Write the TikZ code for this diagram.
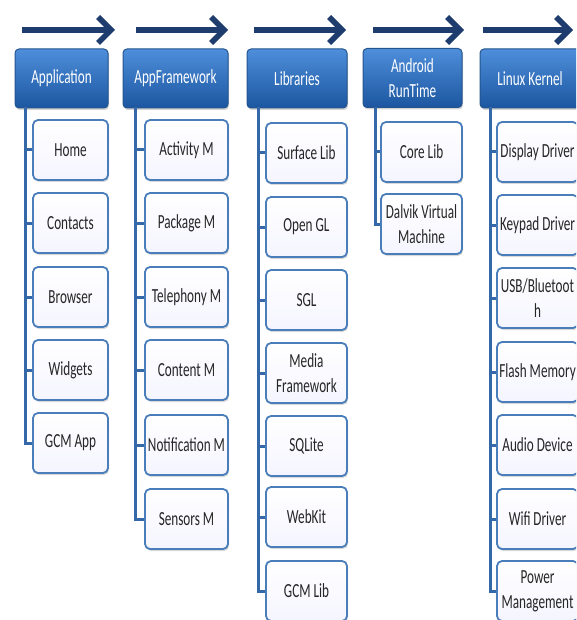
\documentclass[tikz,border=0pt]{standalone}
\usepackage{fontspec}
\setmainfont[FakeStretch=0.66]{Carlito}
\usetikzlibrary{arrows.meta,shadows}
\definecolor{hdrtop}{HTML}{4E8EDA}
\definecolor{hdrbot}{HTML}{1C56A0}
\definecolor{hdrline}{HTML}{24558F}
\definecolor{boxline}{HTML}{4A7EBB}
\definecolor{trunk}{HTML}{3468A8}
\definecolor{navy}{HTML}{1F3C6E}
\begin{document}
\begin{tikzpicture}[x=1pt,y=-1pt]
\useasboundingbox (0,0) rectangle (576,620);
\clip (0,0) rectangle (576,620);
\tikzstyle{every node}=[font=\fontsize{20}{25}\selectfont,align=center,inner sep=1pt];
\tikzstyle{hdr}=[rounded corners=4pt,top color=hdrtop,bottom color=hdrbot,draw=hdrline,line width=1pt,text=white,minimum height=59pt,drop shadow={opacity=0.35,shadow xshift=1pt,shadow yshift=-2pt}];
\tikzstyle{item}=[rounded corners=5pt,top color=white,bottom color=blue!4,draw=boxline,line width=1.8pt,text=black!85,minimum height=60pt,drop shadow={opacity=0.3,shadow xshift=1pt,shadow yshift=-2pt}];
\tikzstyle{conn}=[trunk,line width=3pt];
\tikzstyle{flow}=[navy,line width=5.5pt,-{Straight Barb[length=13pt,width=26pt]}];

% top arrows
\coordinate (f1) at (22,30);  \coordinate (g1) at (115,30);
\coordinate (f2) at (136,30); \coordinate (g2) at (228,30);
\coordinate (f3) at (254,30); \coordinate (g3) at (346,30);
\coordinate (f4) at (373,30); \coordinate (g4) at (464,30);
\coordinate (f5) at (483,30); \coordinate (g5) at (573,30);
\draw[flow] (f1) -- (g1);
\draw[flow] (f2) -- (g2);
\draw[flow] (f3) -- (g3);
\draw[flow] (f4) -- (g4);
\draw[flow] (f5) -- (g5);

% Application
\coordinate (ta) at (25,107);
\draw (61.5,78.5) node[hdr,minimum width=93pt] (a0) {Application};
\tikzstyle{every node}+=[item,minimum width=75pt];
\draw (70.5,150) node (a1) {Home};
\draw (70.5,223) node (a2) {Contacts};
\draw (70.5,297) node (a3) {Browser};
\draw (70.5,370) node (a4) {Widgets};
\draw (70.5,443) node (a5) {GCM App};
\draw[conn] (ta) |- (a1.west);
\draw[conn] (ta) |- (a2.west);
\draw[conn] (ta) |- (a3.west);
\draw[conn] (ta) |- (a4.west);
\draw[conn] (ta) |- (a5.west);

% AppFramework
\tikzstyle{every node}=[font=\fontsize{20}{25}\selectfont,align=center,inner sep=1pt];
\coordinate (tb) at (135,107);
\draw (175.5,78.5) node[hdr,minimum width=105pt] (b0) {AppFramework};
\tikzstyle{every node}+=[item,minimum width=83pt];
\draw (186.5,150) node (b1) {Activity M};
\draw (186.5,223) node (b2) {Package M};
\draw (186.5,297) node (b3) {Telephony M};
\draw (186.5,370) node (b4) {Content M};
\draw (186.5,445) node (b5) {Notification M};
\draw (186.5,519) node (b6) {Sensors M};
\draw[conn] (tb) |- (b1.west);
\draw[conn] (tb) |- (b2.west);
\draw[conn] (tb) |- (b3.west);
\draw[conn] (tb) |- (b4.west);
\draw[conn] (tb) |- (b5.west);
\draw[conn] (tb) |- (b6.west);

% Libraries
\tikzstyle{every node}=[font=\fontsize{20}{25}\selectfont,align=center,inner sep=1pt];
\coordinate (tc) at (258,107);
\draw (297,78.5) node[hdr,minimum width=100pt] (c0) {Libraries};
\tikzstyle{every node}+=[item,minimum width=81pt];
\draw (306.5,153) node (c1) {Surface Lib};
\draw (306.5,227) node (c2) {Open GL};
\draw (306.5,300) node (c3) {SGL};
\draw (306.5,373) node (c4) {Media\\Framework};
\draw (306.5,446) node (c5) {SQLite};
\draw (306.5,517) node (c6) {WebKit};
\draw (306.5,591) node (c7) {GCM Lib};
\draw[conn] (tc) |- (c1.west);
\draw[conn] (tc) |- (c2.west);
\draw[conn] (tc) |- (c3.west);
\draw[conn] (tc) |- (c4.west);
\draw[conn] (tc) |- (c5.west);
\draw[conn] (tc) |- (c6.west);
\draw[conn] (tc) |- (c7.west);

% Android RunTime
\tikzstyle{every node}=[font=\fontsize{20}{25}\selectfont,align=center,inner sep=1pt];
\coordinate (td) at (375,107);
\draw (412.5,78) node[hdr,minimum width=99pt] (d0) {Android\\RunTime};
\tikzstyle{every node}+=[item,minimum width=81pt];
\draw (421.5,152) node (d1) {Core Lib};
\draw (421.5,224) node (d2) {Dalvik Virtual\\Machine};
\draw[conn] (td) |- (d1.west);
\draw[conn] (td) |- (d2.west);

% Linux Kernel
\tikzstyle{every node}=[font=\fontsize{20}{25}\selectfont,align=center,inner sep=1pt];
\coordinate (te) at (490,107);
\draw (530,78.5) node[hdr,minimum width=100pt] (e0) {Linux Kernel};
\tikzstyle{every node}+=[item,minimum width=81pt];
\draw (537.5,152) node (e1) {Display Driver};
\draw (537.5,225) node (e2) {Keypad Driver};
\draw (537.5,298) node (e3) {USB/Bluetoot\\h};
\draw (537.5,372) node (e4) {Flash Memory};
\draw (537.5,445) node (e5) {Audio Device};
\draw (537.5,519) node (e6) {Wifi Driver};
\draw (537.5,591) node (e7) {Power\\Management};
\draw[conn] (te) |- (e1.west);
\draw[conn] (te) |- (e2.west);
\draw[conn] (te) |- (e3.west);
\draw[conn] (te) |- (e4.west);
\draw[conn] (te) |- (e5.west);
\draw[conn] (te) |- (e6.west);
\draw[conn] (te) |- (e7.west);
\end{tikzpicture}
\end{document}
